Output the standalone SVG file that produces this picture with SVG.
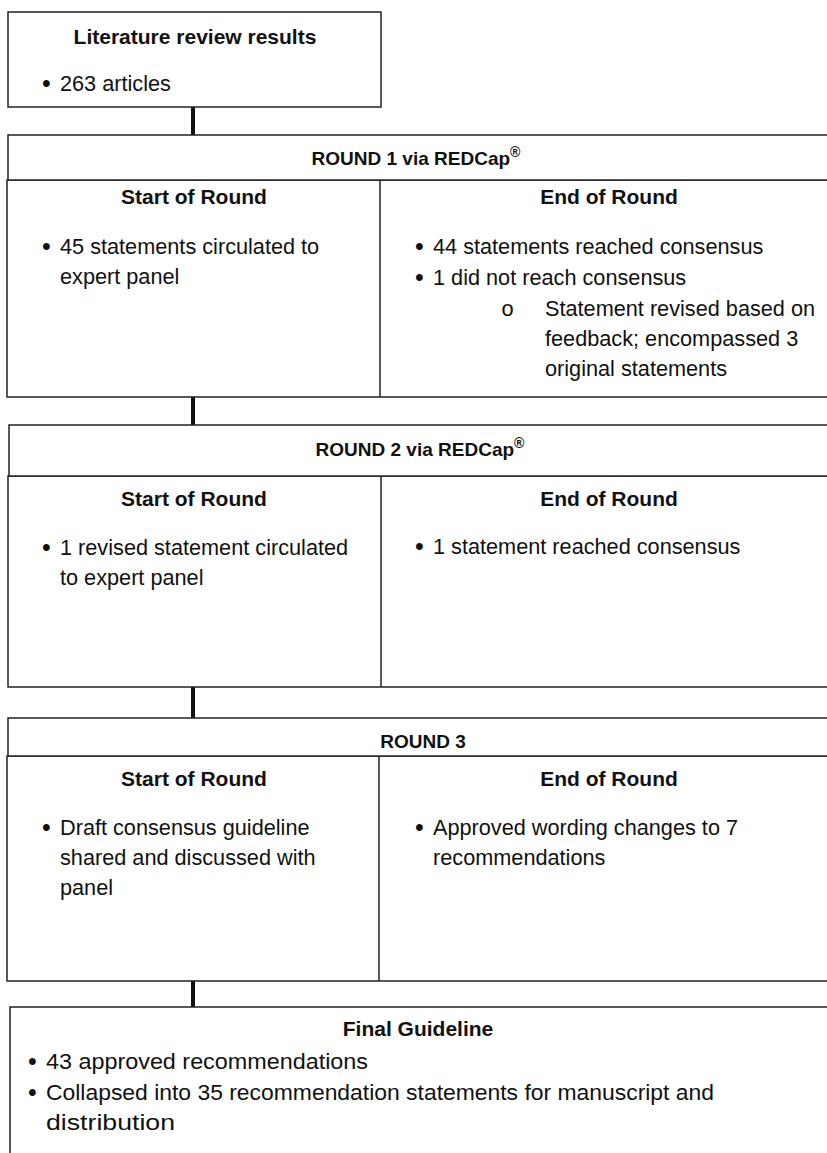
<svg xmlns="http://www.w3.org/2000/svg" width="827" height="1153" viewBox="0 0 827 1153">
<style>
.box{fill:#fff;stroke:#222;stroke-width:1.5}
.div{stroke:#222;stroke-width:1.5}
.conn{stroke:#111;stroke-width:4}
text{font-family:"Liberation Sans",Arial,sans-serif;font-size:21.7px;fill:#111}
.b{font-weight:bold;font-size:21px}
.h{font-weight:bold;font-size:19px}
.m{text-anchor:middle}
.bl{font-size:25px}
.o{font-family:"Liberation Mono","Courier New",monospace;font-size:22px}
</style>
<rect width="827" height="1153" fill="#fff"/>
<g id="connectors">
<line class="conn" x1="193" y1="107" x2="193" y2="135"/>
<line class="conn" x1="193" y1="397" x2="193" y2="425"/>
<line class="conn" x1="193" y1="687" x2="193" y2="718"/>
<line class="conn" x1="193" y1="981" x2="193" y2="1007"/>
</g>
<g id="literature">
<rect class="box" x="8" y="12" width="373" height="95"/>
<text class="b m" x="195" y="44">Literature review results</text>
<text class="bl" x="42" y="92">•</text><text x="60" y="91">263 articles</text>
</g>
<g id="round1">
<rect class="box" x="7" y="180" width="840" height="217"/>
<rect class="box" x="8" y="135" width="840" height="45"/>
<line class="div" x1="380" y1="180" x2="380" y2="397"/>
<text class="h m" x="416" y="165">ROUND 1 via REDCap<tspan font-size="14" dy="-8">®</tspan></text>
<text class="b m" x="194" y="204">Start of Round</text>
<text class="b m" x="609" y="204">End of Round</text>
<text class="bl" x="42" y="255">•</text><text x="60" y="254">45 statements circulated to</text>
<text x="60" y="284">expert panel</text>
<text class="bl" x="415" y="255">•</text><text x="433" y="254">44 statements reached consensus</text>
<text class="bl" x="415" y="286">•</text><text x="433" y="285">1 did not reach consensus</text>
<text class="o" x="501" y="316">o</text><text x="545" y="316">Statement revised based on</text>
<text x="545" y="346">feedback; encompassed 3</text>
<text x="545" y="376">original statements</text>
</g>
<g id="round2">
<rect class="box" x="8" y="476" width="840" height="211"/>
<rect class="box" x="9" y="425" width="840" height="51"/>
<line class="div" x1="381" y1="476" x2="381" y2="687"/>
<text class="h m" x="420" y="456">ROUND 2 via REDCap<tspan font-size="14" dy="-8">®</tspan></text>
<text class="b m" x="194" y="506">Start of Round</text>
<text class="b m" x="609" y="506">End of Round</text>
<text class="bl" x="42" y="556">•</text><text x="60" y="555">1 revised statement circulated</text>
<text x="60" y="585">to expert panel</text>
<text class="bl" x="415" y="555">•</text><text x="433" y="554">1 statement reached consensus</text>
</g>
<g id="round3">
<rect class="box" x="7" y="756" width="840" height="225"/>
<rect class="box" x="8" y="718" width="840" height="38"/>
<line class="div" x1="379" y1="756" x2="379" y2="981"/>
<text class="h m" x="423" y="748">ROUND 3</text>
<text class="b m" x="194" y="786">Start of Round</text>
<text class="b m" x="609" y="786">End of Round</text>
<text class="bl" x="42" y="836">•</text><text x="60" y="835">Draft consensus guideline</text>
<text x="60" y="865">shared and discussed with</text>
<text x="60" y="895">panel</text>
<text class="bl" x="415" y="836">•</text><text x="433" y="835">Approved wording changes to 7</text>
<text x="433" y="865">recommendations</text>
</g>
<g id="final">
<rect class="box" x="10" y="1007" width="840" height="170"/>
<text class="b m" x="418" y="1036">Final Guideline</text>
<text class="bl" x="28" y="1070">•</text><text x="46" y="1069" textLength="322" lengthAdjust="spacingAndGlyphs">43 approved recommendations</text>
<text class="bl" x="28" y="1101">•</text><text x="46" y="1100" textLength="668" lengthAdjust="spacingAndGlyphs">Collapsed into 35 recommendation statements for manuscript and</text>
<text x="46" y="1130" textLength="129" lengthAdjust="spacingAndGlyphs">distribution</text>
</g>
</svg>
